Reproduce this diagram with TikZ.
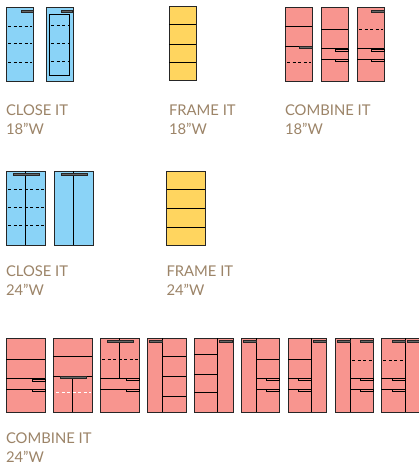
\documentclass[tikz,border=0pt]{standalone}
\usepackage{xcolor}
\usepackage{fontspec}
\setmainfont{Lato}
\definecolor{closeblue}{HTML}{8AD3F7}
\definecolor{frameyellow}{HTML}{FFD55F}
\definecolor{combinered}{HTML}{F8958F}
\definecolor{labeltan}{HTML}{9C8468}
\begin{document}
\begin{tikzpicture}[x=1pt,y=-1pt,line width=1pt,
  closebox/.style={draw=black!85,fill=closeblue},
  framebox/.style={draw=black!85,fill=frameyellow},
  combinebox/.style={draw=black!85,fill=combinered},
  shelf/.style={black,dash pattern=on 3pt off 2.5pt},
  pull/.style={draw=black!85,fill=black!60,line width=0.7pt},
  drawerpull/.style={draw=black,line width=0.8pt},
  labeltext/.style={anchor=base west,inner sep=0pt,text=labeltan,align=left,
    font=\fontsize{14.8}{19}\selectfont}]
\useasboundingbox (0,0) rectangle (418,468);
\fill[white] (0,0) rectangle (418,468);

% Close it 18
\draw[closebox] (6,8) rectangle (33,82);
\draw[pull] (21,10) rectangle (33,12);
\foreach \y in {27,44,63} \draw[shelf] (8,\y) -- (32,\y);
\draw[closebox] (46,8) rectangle (73,82);
\draw[pull] (61,10) rectangle (72,12);
\draw (49.5,15) rectangle (69.5,76);
\foreach \y in {26,43.5,62} \draw[shelf] (51,\y) -- (68,\y);

% Frame it 18
\draw[framebox] (169,7) rectangle (196,81);
\foreach \y in {25,44.5,63} \draw (169,\y) -- (196,\y);

% Combine it 18
\draw[combinebox] (285,8) rectangle (312,82);
\draw (285,27) -- (312,27);
\draw (285,46.5) -- (312,46.5);
\draw[pull] (299,46.5) rectangle (312,48.5);
\draw[shelf] (287,63) -- (311,63);

\draw[combinebox] (321,8) rectangle (348,82);
\foreach \y in {30,49,59.5} \draw (321,\y) -- (348,\y);
\foreach \y in {49,59.5} \draw[drawerpull] (335,\y) rectangle (348,\y+2);

\draw[combinebox] (357,8) rectangle (384,82);
\draw[pull] (371,10) rectangle (384,12);
\draw[shelf] (359,30) -- (383,30);
\foreach \y in {49,59.5} {
  \draw (357,\y) -- (384,\y);
  \draw[drawerpull] (371,\y) rectangle (384,\y+2);
}

% Close it 24
\draw[closebox] (6,171) rectangle (45,245);
\draw (25.5,171) -- (25.5,245);
\draw[pull] (13,173) rectangle (39,175);
\foreach \y in {189.5,207.5,225.5} \draw[shelf] (8,\y) -- (44,\y);
\draw[closebox] (54,171) rectangle (93,245);
\draw (73.5,171) -- (73.5,245);
\draw[pull] (61,173) rectangle (87,175);

% Frame it 24
\draw[framebox] (166.5,171) rectangle (205,245);
\foreach \y in {189,208,227} \draw (166.5,\y) -- (205,\y);

% Combine it 24
\draw[combinebox] (6,338) rectangle (45,412);
\foreach \y in {359.5,378.5,389} \draw (6,\y) -- (45,\y);
\foreach \y in {379,389} \draw[drawerpull] (32,\y) rectangle (45,\y+2);

\draw[combinebox] (53,338) rectangle (92,412);
\draw (53,356) -- (92,356);
\draw (53,376) -- (92,376);
\draw (72.5,376) -- (72.5,412);
\draw[pull] (60,376) rectangle (86,378);
\draw[shelf,white] (56,392) -- (91,392);

\draw[combinebox] (100,338) rectangle (139,412);
\draw (119.5,338) -- (119.5,378);
\draw (100,378) -- (139,378);
\draw (100,389) -- (139,389);
\draw[pull] (107,340) rectangle (133,342);
\draw[shelf] (102,359) -- (138,359);
\foreach \y in {378,389} \draw[drawerpull] (126,\y) rectangle (139,\y+2);

\draw[combinebox] (147,338) rectangle (186,412);
\draw (162,338) -- (162,412);
\foreach \y in {356.5,376,396} \draw (162,\y) -- (186,\y);
\draw[pull] (149,340) rectangle (162,342);

\draw[combinebox] (194,338) rectangle (233,412);
\draw (217.5,338) -- (217.5,412);
\foreach \y in {354.5,374,392.5} \draw (194,\y) -- (217.5,\y);
\draw[pull] (219,340) rectangle (232,342);

\draw[combinebox] (241,338) rectangle (279,412);
\draw (256,338) -- (256,412);
\draw[pull] (243,340) rectangle (256,342);
\foreach \y in {359.5,378,389} \draw (256,\y) -- (279,\y);
\foreach \y in {378,389} \draw[drawerpull] (266,\y) rectangle (279,\y+2);

\draw[combinebox] (288,338) rectangle (326,412);
\draw (311.5,338) -- (311.5,412);
\foreach \y in {359.5,378,389} \draw (288,\y) -- (311.5,\y);
\foreach \y in {378,389} \draw[drawerpull] (298,\y) rectangle (311.5,\y+2);
\draw[pull] (313,340) rectangle (326,342);

\draw[combinebox] (335,338) rectangle (373,412);
\draw (350,338) -- (350,412);
\draw[pull] (337,340) rectangle (350,342);
\draw[pull] (360,340) rectangle (373,342);
\draw[shelf] (352,360) -- (372,360);
\foreach \y in {378,389} {
  \draw (350,\y) -- (373,\y);
  \draw[drawerpull] (360,\y) rectangle (373,\y+2);
}

\draw[combinebox] (381,338) rectangle (420,412);
\draw (405.5,338) -- (405.5,412);
\draw[pull] (392,340) rectangle (405.5,342);
\draw[pull] (407,340) rectangle (420,342);
\draw[shelf] (383,360) -- (403,360);
\foreach \y in {378,389} {
  \draw (381,\y) -- (405.5,\y);
  \draw[drawerpull] (392,\y) rectangle (405.5,\y+2);
}

% Labels
\node[labeltext] (close18) at (5.5,115) {CLOSE IT};
\node[labeltext] (close18w) at (5.5,134) {18"W};
\node[labeltext] (frame18) at (168.5,115) {FRAME IT};
\node[labeltext] (frame18w) at (168.5,134) {18"W};
\node[labeltext] (combine18) at (284.5,115) {COMBINE IT};
\node[labeltext] (combine18w) at (284.5,134) {18"W};
\node[labeltext] (close24) at (5.5,276) {CLOSE IT};
\node[labeltext] (close24w) at (5.5,295) {24"W};
\node[labeltext] (frame24) at (166,276) {FRAME IT};
\node[labeltext] (frame24w) at (166,295) {24"W};
\node[labeltext] (combine24) at (5.5,443) {COMBINE IT};
\node[labeltext] (combine24w) at (5.5,462) {24"W};
\end{tikzpicture}
\end{document}
